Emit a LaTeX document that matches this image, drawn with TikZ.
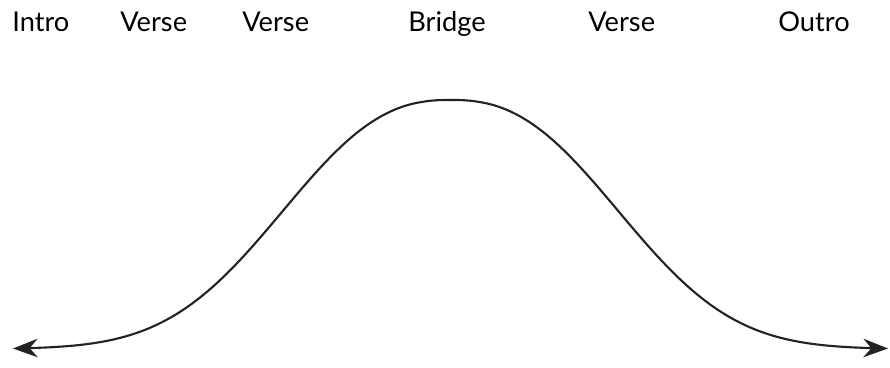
\documentclass[tikz,border=0pt]{standalone}
\usepackage{fontspec}
\setmainfont{Lato}
\usepackage{tikz}
\usetikzlibrary{arrows.meta}
\definecolor{curvegray}{RGB}{34,34,34}

\begin{document}
\begin{tikzpicture}[
    x=0.02cm, y=-0.02cm,
    part/.style={anchor=base west, inner sep=0pt, font=\fontsize{15.5}{18}\selectfont},
    arc/.style={draw=curvegray, line width=1.2pt, {Stealth[length=14pt,width=10.5pt,inset=4.5pt]}-{Stealth[length=14pt,width=10.5pt,inset=4.5pt]}}
]
\useasboundingbox (0,0) rectangle (890,368);

\node[part] (intro)  at (12, 32)  {Intro};
\node[part] (verse1) at (120, 32) {Verse};
\node[part] (verse2) at (242, 32) {Verse};
\node[part] (bridge) at (408, 32) {Bridge};
\node[part] (verse3) at (588, 32) {Verse};
\node[part] (outro)  at (778, 32) {Outro};

\draw[arc] plot[domain=13:888, samples=176, smooth]
    (\x, {349 - 249*exp(-pow(abs(\x-450.5)/208, 2.45))});
\end{tikzpicture}
\end{document}
